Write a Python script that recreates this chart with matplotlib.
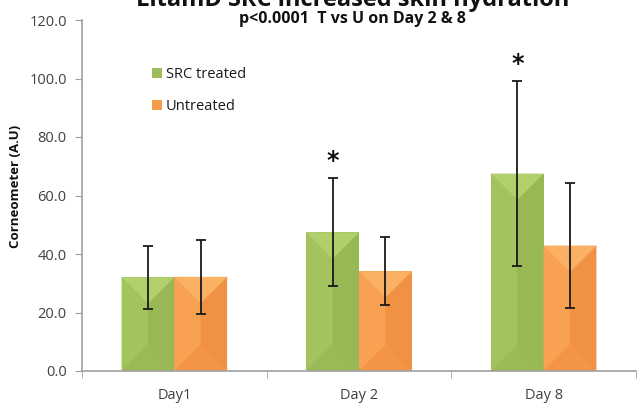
import matplotlib
matplotlib.use("Agg")
import matplotlib.pyplot as plt
from matplotlib.patches import Polygon, Patch

plt.rcParams['font.family'] = ['Open Sans', 'DejaVu Sans']

categories = ["Day1", "Day 2", "Day 8"]
series_names = ["SRC treated", "Untreated"]
treated = [32.1, 47.4, 67.5]
treated_err = [10.8, 18.5, 31.6]
untreated = [32.2, 34.1, 42.9]
untreated_err = [12.6, 11.6, 21.4]
significant = [False, True, True]
yticks = [0, 20, 40, 60, 80, 100, 120]
title = "LitamD SRC increased skin hydration"
subtitle = "p<0.0001  T vs U on Day 2 & 8"
ylabel = "Corneometer (A.U)"

green = "#9CBD59"
orange = "#F79A4A"
green_fac = {"top": "#B0D06C", "left": "#A2C35E", "right": "#97B855", "bottom": "#99BA56"}
orange_fac = {"top": "#FBB164", "left": "#F9A152", "right": "#F09243", "bottom": "#F39545"}

fig = plt.figure(figsize=(6.37, 4.05), dpi=100)
ax = fig.add_axes([82/637, 1 - 371/405, (636 - 82)/637, (371 - 20)/405])

w = 0.2857
x = list(range(len(categories)))
xg = [i - w/2 for i in x]
xo = [i + w/2 for i in x]

bars_g = ax.bar(xg, treated, width=w, color=green, edgecolor="none", zorder=2)
bars_o = ax.bar(xo, untreated, width=w, color=orange, edgecolor="none", zorder=2)

ax.set_xlim(-0.5, 2.5)
ax.set_ylim(0, 120)

fig.canvas.draw()

def bevel(bars, fac):
    inv = ax.transData.inverted()
    for b in bars:
        x0, y0 = b.get_x(), b.get_y()
        x1, y1 = x0 + b.get_width(), y0 + b.get_height()
        p0 = ax.transData.transform((x0, 0))
        p1 = ax.transData.transform((x1, 0))
        dpx = (p1[0] - p0[0]) / 2
        q1 = inv.transform((p0[0], p0[1] + dpx))
        d = min(q1[1], (y1 - y0) / 2)
        xm = (x0 + x1) / 2
        polys = {
            "top": [(x0, y1), (x1, y1), (xm, y1 - d)],
            "bottom": [(x0, y0), (x1, y0), (xm, y0 + d)],
            "left": [(x0, y0), (x0, y1), (xm, y1 - d), (xm, y0 + d)],
            "right": [(x1, y0), (x1, y1), (xm, y1 - d), (xm, y0 + d)],
        }
        for k in ["left", "right", "top", "bottom"]:
            ax.add_patch(Polygon(polys[k], closed=True, facecolor=fac[k],
                                 edgecolor="none", zorder=2.1))

bevel(bars_g, green_fac)
bevel(bars_o, orange_fac)

ax.errorbar(xg, treated, yerr=treated_err, fmt="none", ecolor="#1a1a1a",
            elinewidth=1.3, capsize=3.8, capthick=1.3, zorder=3)
ax.errorbar(xo, untreated, yerr=untreated_err, fmt="none", ecolor="#1a1a1a",
            elinewidth=1.3, capsize=3.8, capthick=1.3, zorder=3)

for xi, v, e, s in zip(xg, treated, treated_err, significant):
    if s:
        ax.text(xi, v + e + 6.0, "*", ha="center", va="center", fontsize=17,
                fontweight="bold", color="#111111", family="DejaVu Sans")

ax.set_yticks(yticks)
ax.set_yticklabels([f"{t:.1f}" for t in yticks])
ax.set_xticks(x)
ax.set_xticklabels(categories)
ax.set_xticks([-0.5, 0.5, 1.5, 2.5], minor=True)
ax.tick_params(axis="x", which="major", length=0, pad=12, labelsize=10.5, labelcolor="#404040")
ax.tick_params(axis="x", which="minor", length=5, color="#A0A0A0", direction="out")
ax.tick_params(axis="y", length=5, color="#A0A0A0", labelsize=10.5, labelcolor="#404040", pad=6)

for s in ["top", "right"]:
    ax.spines[s].set_visible(False)
for s in ["left", "bottom"]:
    ax.spines[s].set_color("#A0A0A0")
    ax.spines[s].set_linewidth(1.2)

ax.set_ylabel(ylabel, fontsize=9.5, fontweight="bold", color="#111111")
ax.yaxis.set_label_coords((22 - 82) / 554, (371 - 186) / 351)

handles = [Patch(facecolor=green, edgecolor="none"), Patch(facecolor=orange, edgecolor="none")]
leg = ax.legend(handles, series_names, loc="upper left",
                bbox_to_anchor=((146 - 82) / 554, 1 - (61 - 20) / 351),
                frameon=False, fontsize=10.5, handlelength=0.7, handleheight=0.7,
                handletextpad=0.25, labelspacing=1.2, borderaxespad=0)
for t in leg.get_texts():
    t.set_color("#1a1a1a")

fig.text(352/637, 1 - 19/405, subtitle, ha="center", va="center", fontsize=11.5,
         fontweight="bold", color="#111111")
fig.text(353/637, 1 - 6/405, title, ha="center", va="baseline", fontsize=17,
         fontweight="bold", color="#111111")

fig.savefig("out.png", dpi=100)
